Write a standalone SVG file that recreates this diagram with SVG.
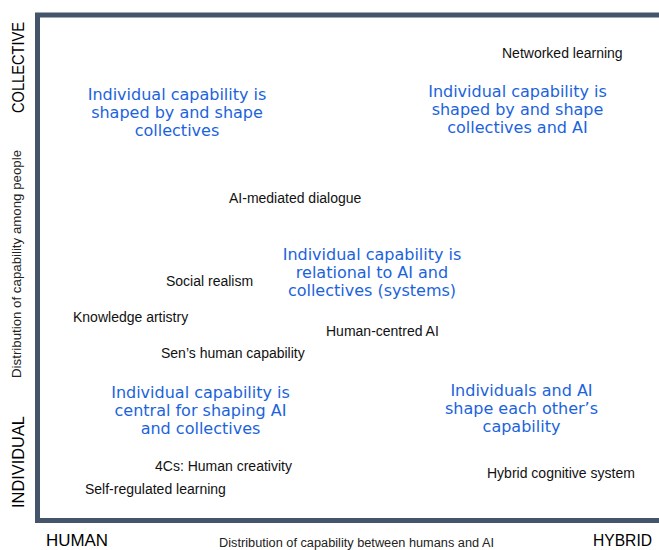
<svg xmlns="http://www.w3.org/2000/svg" width="659" height="550" viewBox="0 0 659 550">
  <style>
    .frame { fill: none; stroke: #44546A; stroke-width: 5; stroke-linejoin: miter; }
    .axis { font-family: "Liberation Sans", Arial, sans-serif; fill: #000; }
    .big { font-size: 17px; }
    .small { font-size: 12px; fill: #222; }
    .lbl { font-family: "Liberation Sans", Arial, sans-serif; font-size: 14px; fill: #111; }
    .zone { font-family: "DejaVu Sans", "Noto Sans", sans-serif; font-size: 16px; fill: #1B63DC; text-anchor: middle; }
  </style>
  <rect width="659" height="550" fill="#fff"/>

  <g id="axes">
    <path class="frame" d="M 665 15 H 37.5 V 520.5 H 665"/>
  </g>

  <g id="axis-labels">
    <text class="axis big" text-anchor="middle" transform="translate(24,67.5) rotate(-90)" textLength="91" lengthAdjust="spacingAndGlyphs">COLLECTIVE</text>
    <text class="axis big" text-anchor="middle" transform="translate(24,462) rotate(-90)" textLength="92" lengthAdjust="spacingAndGlyphs">INDIVIDUAL</text>
    <text class="axis small" text-anchor="middle" transform="translate(20.5,264) rotate(-90)" textLength="228" lengthAdjust="spacingAndGlyphs">Distribution of capability among people</text>
    <text class="axis big" x="46" y="546" textLength="62" lengthAdjust="spacingAndGlyphs">HUMAN</text>
    <text class="axis big" x="593" y="546" textLength="59" lengthAdjust="spacingAndGlyphs">HYBRID</text>
    <text class="axis small" x="219" y="547" textLength="275" lengthAdjust="spacingAndGlyphs">Distribution of capability between humans and AI</text>
  </g>

  <g id="zone-top-left">
    <text class="zone" x="177" y="99.5">Individual capability is</text>
    <text class="zone" x="177" y="117.5">shaped by and shape</text>
    <text class="zone" x="177" y="135.5">collectives</text>
  </g>
  <g id="zone-top-right">
    <text class="zone" x="517.5" y="97">Individual capability is</text>
    <text class="zone" x="517.5" y="115">shaped by and shape</text>
    <text class="zone" x="517.5" y="133">collectives and AI</text>
  </g>
  <g id="zone-center">
    <text class="zone" x="372" y="260">Individual capability is</text>
    <text class="zone" x="372" y="278">relational to AI and</text>
    <text class="zone" x="372" y="296">collectives (systems)</text>
  </g>
  <g id="zone-bottom-left">
    <text class="zone" x="200.5" y="398">Individual capability is</text>
    <text class="zone" x="200.5" y="416">central for shaping AI</text>
    <text class="zone" x="200.5" y="434">and collectives</text>
  </g>
  <g id="zone-bottom-right">
    <text class="zone" x="521.5" y="396">Individuals and AI</text>
    <text class="zone" x="521.5" y="414">shape each other’s</text>
    <text class="zone" x="521.5" y="432">capability</text>
  </g>

  <g id="node-networked-learning"><text class="lbl" x="502" y="58">Networked learning</text></g>
  <g id="node-ai-mediated-dialogue"><text class="lbl" x="229" y="203">AI-mediated dialogue</text></g>
  <g id="node-social-realism"><text class="lbl" x="166" y="286">Social realism</text></g>
  <g id="node-knowledge-artistry"><text class="lbl" x="73" y="322">Knowledge artistry</text></g>
  <g id="node-human-centred-ai"><text class="lbl" x="326" y="336">Human-centred AI</text></g>
  <g id="node-sens-human-capability"><text class="lbl" x="161" y="358">Sen’s human capability</text></g>
  <g id="node-4cs"><text class="lbl" x="155" y="471">4Cs: Human creativity</text></g>
  <g id="node-self-regulated-learning"><text class="lbl" x="85" y="494">Self-regulated learning</text></g>
  <g id="node-hybrid-cognitive-system"><text class="lbl" x="487" y="478">Hybrid cognitive system</text></g>

  <g id="connectors"></g>
</svg>
